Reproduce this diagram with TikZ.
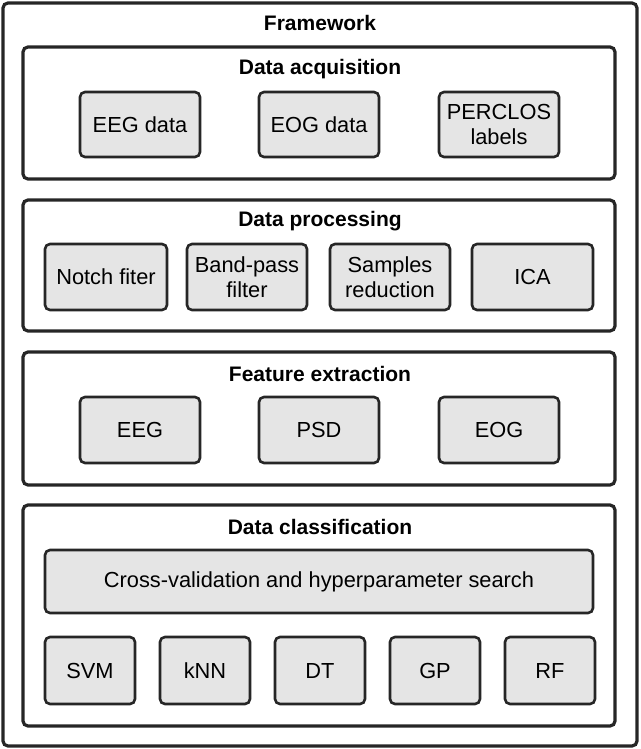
\documentclass[tikz,border=0pt]{standalone}
\usepackage{fontspec}
\setmainfont{Liberation Sans}
\begin{document}
\begin{tikzpicture}[x=1pt,y=-1pt,
  frame/.style={draw=black!85,line width=3.2pt,rounded corners=5pt},
  box/.style={draw=black!85,line width=2.6pt,rounded corners=5pt,fill=black!10,font=\fontsize{21.8}{25}\selectfont,align=center,inner sep=0pt},
  ttl/.style={font=\bfseries\fontsize{21}{25}\selectfont}]
\useasboundingbox (0,0) rectangle (640,749);
\draw[frame] (3,3) rectangle (637,746);
\node[ttl] (tf) at (320,23) {Framework};
% sections
\draw[frame] (23,47) rectangle (615,179);
\node[ttl] (t1) at (320,69) {Data acquisition};
\draw[frame] (23,200) rectangle (615,331);
\node[ttl] (t2) at (320,221) {Data processing};
\draw[frame] (23,352) rectangle (615,485);
\node[ttl] (t3) at (320,374) {Feature extraction};
\draw[frame] (23,505) rectangle (615,726);
\node[ttl] (t4) at (320,527) {Data classification};
% boxes
\newcommand{\bx}[6]{\node[box,minimum width=#3-#2,minimum height=#5-#4] (#1) at ({(#2+#3)/2},{(#4+#5)/2}) {#6};}
\bx{a1}{80}{200}{92}{157}{EEG data}
\bx{a2}{259}{379}{92}{157}{EOG data}
\bx{a3}{439}{559}{92}{157}{PERCLOS\\labels}
\bx{b1}{45}{167}{244}{310}{Notch fiter}
\bx{b2}{187}{307}{244}{310}{Band-pass\\filter}
\bx{b3}{330}{450}{244}{310}{Samples\\reduction}
\bx{b4}{472}{593}{244}{310}{ICA}
\bx{c1}{80}{200}{397}{463}{EEG}
\bx{c2}{259}{379}{397}{463}{PSD}
\bx{c3}{439}{559}{397}{463}{EOG}
\bx{d0}{45}{593}{550}{613}{Cross-validation and hyperparameter search}
\bx{d1}{45}{135}{637}{704}{SVM}
\bx{d2}{160}{250}{637}{704}{kNN}
\bx{d3}{275}{365}{637}{704}{DT}
\bx{d4}{390}{480}{637}{704}{GP}
\bx{d5}{505}{595}{637}{704}{RF}
\end{tikzpicture}
\end{document}
